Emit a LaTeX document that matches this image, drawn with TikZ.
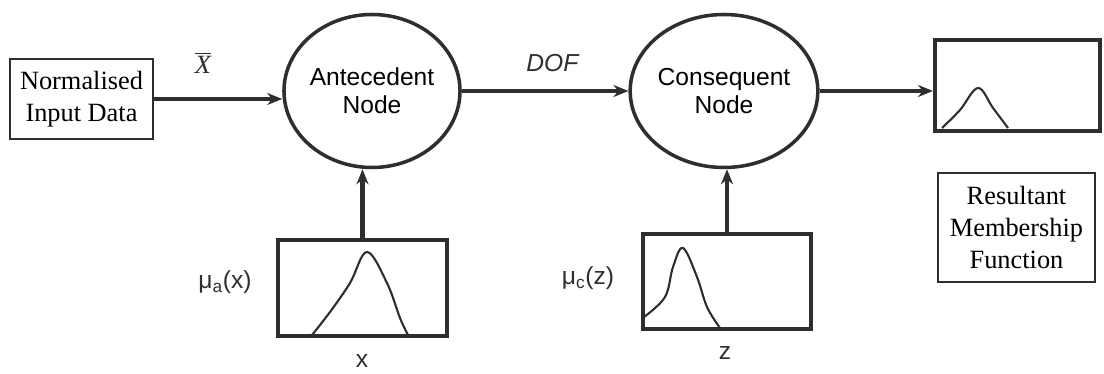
\documentclass[tikz,border=0pt]{standalone}
\usepackage{fontspec}
\setmainfont{Liberation Sans}
\newfontfamily\serifrm{Liberation Serif}
\usetikzlibrary{arrows.meta, shapes.geometric, positioning}
\definecolor{inkGrey}{HTML}{2E2E2E}
\tikzset{
  flow/.style     = {-{Stealth[length=3mm, width=2.4mm]}, line width=2.3pt, inkGrey},
  fuzznode/.style = {ellipse, draw=inkGrey, line width=2pt, inner sep=0pt,
                     align=center, font=\fontsize{14}{16}\selectfont},
  textbox/.style  = {rectangle, draw=inkGrey, line width=1.6pt, inner sep=0pt,
                     align=center, font=\serifrm\fontsize{15}{18}\selectfont},
  mfbox/.style    = {rectangle, draw=inkGrey, line width=2.3pt, inner sep=0pt},
  mfcurve/.style  = {inkGrey, line width=1.2pt},
  lbl/.style      = {font=\fontsize{14}{16}\selectfont, inkGrey},
}
\begin{document}
\begin{tikzpicture}
\useasboundingbox (0,0) rectangle (22.08,7.48);
% main chain
\node[textbox, minimum width=2.86cm, minimum height=1.6cm] (input) at (1.63,5.50)
  {Normalised\\Input Data};
\node[fuzznode, minimum width=3.26cm, minimum height=3.06cm] (ante) at (7.44,5.66)
  {Antecedent\\Node};
\node[fuzznode, minimum width=3.2cm, minimum height=3.06cm] (cons) at (14.48,5.66)
  {Consequent\\Node};
\node[mfbox, minimum width=3.3cm, minimum height=1.82cm] (result) at (20.35,5.77) {};
\node[textbox, minimum width=3.14cm, minimum height=2.18cm] (resname) at (20.33,2.93)
  {Resultant\\Membership\\Function};
% membership function boxes
\node[mfbox, minimum width=3.38cm, minimum height=1.92cm] (amf) at (7.25,1.72) {};
\node[mfbox, minimum width=3.36cm, minimum height=1.9cm] (cmf) at (14.54,1.85) {};
% curves
\draw[mfcurve] plot[smooth, tension=0.6] coordinates
  {(6.24,0.78) (6.60,1.24) (7.00,1.82) (7.34,2.44) (7.74,1.82) (8.00,1.12) (8.16,0.78)};
\draw[mfcurve] plot[smooth, tension=0.6] coordinates
  {(12.88,1.14) (13.30,1.54) (13.46,2.14) (13.66,2.52) (13.94,1.94) (14.14,1.34) (14.40,0.92)};
\draw[mfcurve] plot[smooth, tension=0.6] coordinates
  {(18.84,4.92) (19.20,5.28) (19.56,5.72) (19.86,5.32) (20.16,4.92)};
% connectors
\draw[flow] (input.east) -- (input.east -| ante.west);
\draw[flow] (ante) -- (cons);
\draw[flow] (cons.east) -- (cons.east -| result.west);
\draw[flow] (amf.north) -- (amf.north |- ante.south);
\draw[flow] (cmf.north) -- (cmf.north |- cons.south);
% labels
\node[lbl] (xbar) at (4.06,6.22) {\serifrm\fontsize{15}{18}\selectfont$\overline{\textit{X}}$};
\node[lbl] (dof) at (11.06,6.22) {\textit{DOF}};
\node[lbl] (mua) at (4.50,1.84) {μ\textsubscript{a}(x)};
\node[lbl] (xlbl) at (7.24,0.26) {x};
\node[lbl] (muc) at (11.76,1.92) {μ\textsubscript{c}(z)};
\node[lbl] (zlbl) at (14.50,0.42) {z};
\end{tikzpicture}
\end{document}
